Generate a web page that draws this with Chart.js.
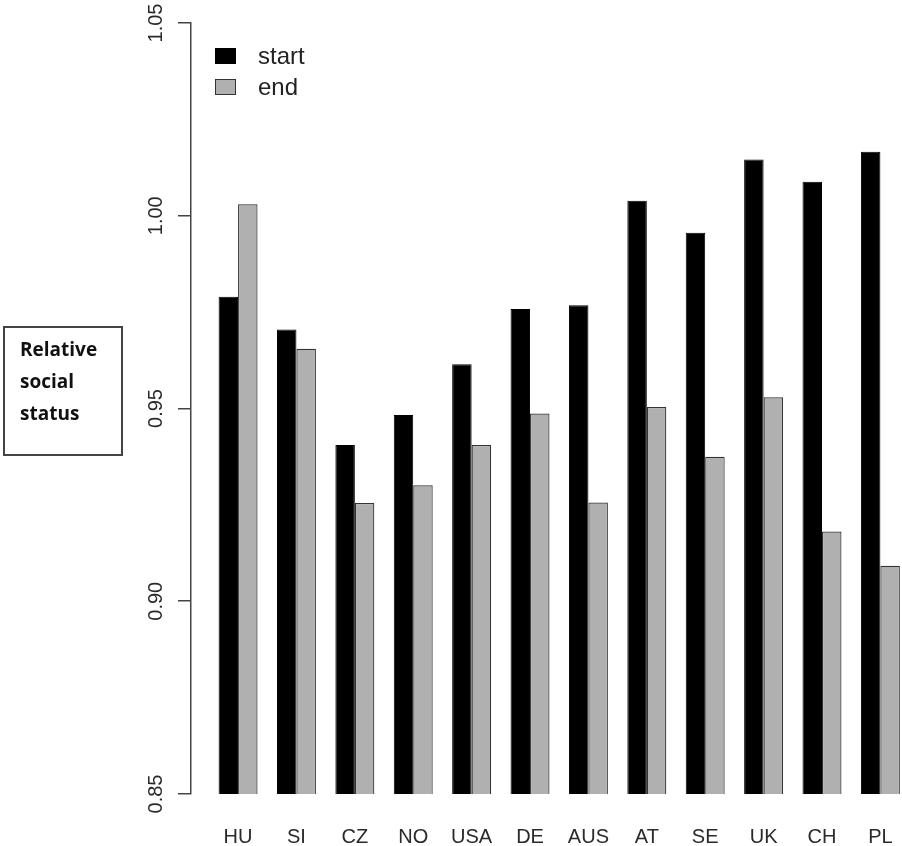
<!DOCTYPE html>
<html>
<head>
    <meta charset="UTF-8">
    <title>Relative social status</title>
    <script src="https://cdn.jsdelivr.net/npm/chart.js"></script>
    <style>
        html, body { margin: 0; padding: 0; background: #fff; overflow: hidden; }
        #box { position: relative; width: 902px; height: 846px; }
        #myChart { position: absolute; left: 0; top: 0; }
        #legend { position: absolute; left: 215px; top: 40px; }
        #legend ul { list-style: none; margin: 0; padding: 0; }
        #ylabel {
            position: absolute; left: 3px; top: 326px; width: 116px; height: 126px;
            border: 2px solid #444; box-sizing: content-box;
            font-family: "Open Sans", sans-serif; font-weight: bold; font-size: 19px;
            line-height: 32px; color: #111;
        }
        #ylabel span { display: block; padding-left: 15px; padding-top: 5px; }
    </style>
</head>
<body>
<div id="box">
    <canvas id="myChart"></canvas>
    <div id="legend"></div>
    <div id="ylabel"><span>Relative<br>social<br>status</span></div>
</div>

<script>
    const categories = ['HU', 'SI', 'CZ', 'NO', 'USA', 'DE', 'AUS', 'AT', 'SE', 'UK', 'CH', 'PL'];
    const startValues = [0.979, 0.9705, 0.9405, 0.9483, 0.9615, 0.9758, 0.9768, 1.0039, 0.9956, 1.0146, 1.0088, 1.0166];
    const endValues = [1.003, 0.9655, 0.9255, 0.9301, 0.9405, 0.9487, 0.9256, 0.9504, 0.9375, 0.9529, 0.9181, 0.9092];
    const yTicks = [0.85, 0.90, 0.95, 1.00, 1.05];

    const W = 902, H = 846;
    const chartCanvas = document.getElementById('myChart');
    chartCanvas.width = W;
    chartCanvas.height = H;
    chartCanvas.style.width = W + 'px';
    chartCanvas.style.height = H + 'px';

    // legend drawn as html, like R's legend box in the top left corner
    const htmlLegendPlugin = {
        id: 'htmlLegend',
        afterUpdate(chart, args, options) {
            const box = document.getElementById(options.containerID);
            box.innerHTML = '';
            const ul = document.createElement('ul');
            chart.data.datasets.forEach(ds => {
                const li = document.createElement('li');
                li.style.display = 'flex';
                li.style.alignItems = 'center';
                li.style.height = '31px';

                const boxSpan = document.createElement('span');
                boxSpan.style.display = 'inline-block';
                boxSpan.style.width = '19px';
                boxSpan.style.height = '14px';
                boxSpan.style.background = ds.backgroundColor;
                boxSpan.style.border = '1px solid ' + ds.borderColor;
                boxSpan.style.marginRight = '22px';

                const p = document.createElement('p');
                p.style.margin = 0;
                p.style.font = '24px "Liberation Sans", Arial, sans-serif';
                p.style.color = '#222';
                p.textContent = ds.label;

                li.appendChild(boxSpan);
                li.appendChild(p);
                ul.appendChild(li);
            });
            box.appendChild(ul);
        }
    };

    // rotated y tick labels, as R draws them
    const yLabelsPlugin = {
        id: 'yLabels',
        afterDraw(chart) {
            const ctx = chart.ctx;
            const y = chart.scales.y;
            ctx.save();
            ctx.fillStyle = '#2a2a2a';
            ctx.font = '20px "Liberation Sans", Arial, sans-serif';
            ctx.textAlign = 'center';
            ctx.textBaseline = 'alphabetic';
            yTicks.forEach(t => {
                ctx.save();
                ctx.translate(162, y.getPixelForValue(t));
                ctx.rotate(-Math.PI / 2);
                ctx.fillText(t.toFixed(2), 0, 0);
                ctx.restore();
            });
            ctx.restore();
        }
    };

    const toPoints = arr => arr.map((v, i) => ({ x: i, y: v }));

    const newChart = new Chart(chartCanvas, {
        type: 'bar',
        data: {
            datasets: [
                {
                    label: 'start',
                    data: toPoints(startValues),
                    backgroundColor: '#000000',
                    borderColor: '#000000',
                    borderWidth: 1
                }, {
                    label: 'end',
                    data: toPoints(endValues),
                    backgroundColor: '#b0b0b0',
                    borderColor: '#333333',
                    borderWidth: 1.2
                }
            ]
        },
        options: {
            responsive: false,
            animation: false,
            layout: { padding: { top: 23, right: 0, bottom: 0, left: 0 } },
            categoryPercentage: 0.667,
            barPercentage: 1,
            scales: {
                x: {
                    type: 'linear',
                    offset: false,
                    min: -0.806,
                    max: 11.37,
                    grid: { display: false },
                    border: { display: false },
                    afterBuildTicks: s => { s.ticks = categories.map((c, i) => ({ value: i })); },
                    afterFit: s => { s.height = 52; s.paddingLeft = 0; s.paddingRight = 0; },
                    ticks: {
                        padding: 23,
                        maxRotation: 0,
                        autoSkip: false,
                        color: '#2a2a2a',
                        font: { family: '"Liberation Sans", Arial, sans-serif', size: 20 },
                        callback: v => categories[v] ?? ''
                    }
                },
                y: {
                    min: 0.85,
                    max: 1.05,
                    afterBuildTicks: s => { s.ticks = yTicks.map(v => ({ value: v })); },
                    afterFit: s => { s.width = 191; },
                    grid: {
                        drawOnChartArea: false,
                        drawTicks: true,
                        tickLength: 13,
                        color: '#444',
                        lineWidth: 1.5
                    },
                    border: { display: true, color: '#444', width: 1.5 },
                    ticks: { display: false }
                }
            },
            plugins: {
                htmlLegend: { containerID: 'legend' },
                legend: { display: false },
                tooltip: { enabled: false }
            }
        },
        plugins: [htmlLegendPlugin, yLabelsPlugin]
    });
</script>
</body>
</html>
